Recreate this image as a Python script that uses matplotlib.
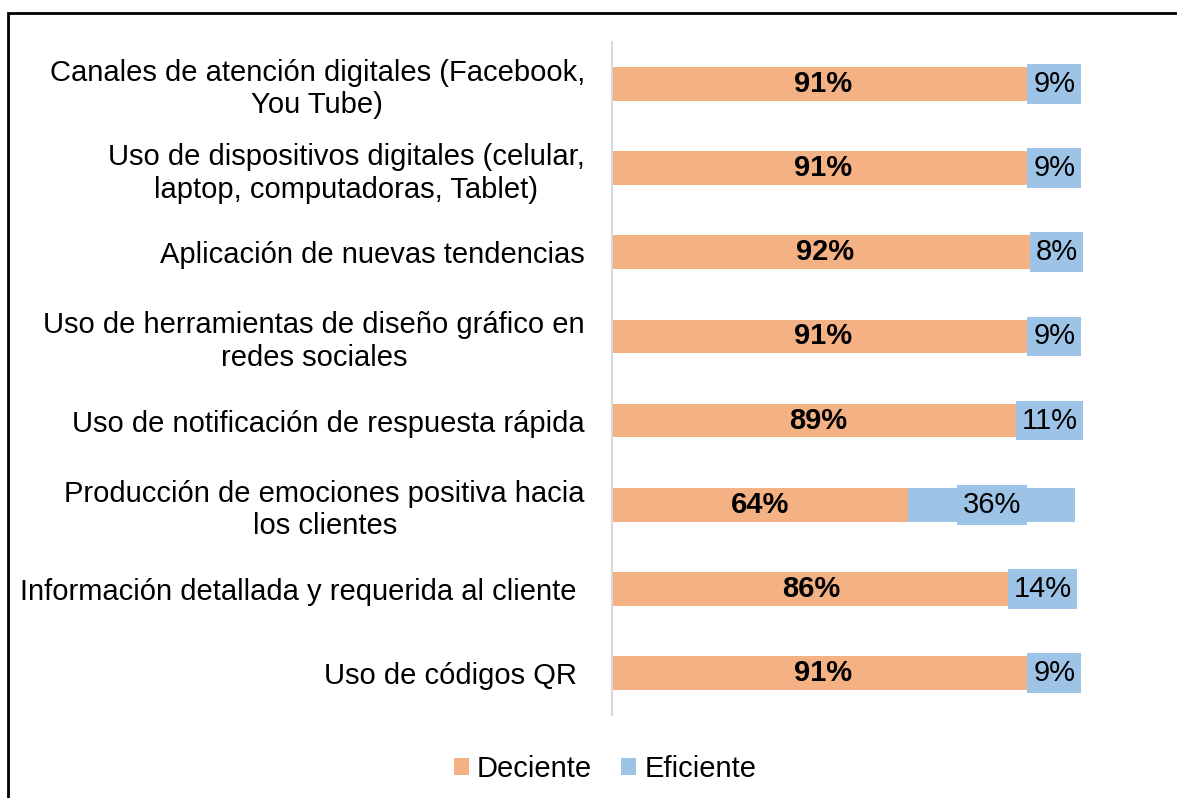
import matplotlib.pyplot as plt
from matplotlib.patches import Rectangle

categories = [
    "Canales de atención digitales (Facebook,\nYou Tube)",
    "Uso de dispositivos digitales (celular,\nlaptop, computadoras, Tablet)",
    "Aplicación de nuevas tendencias",
    "Uso de herramientas de diseño gráfico en\nredes sociales",
    "Uso de notificación de respuesta rápida",
    "Producción de emociones positiva hacia\nlos clientes",
    "Información detallada y requerida al cliente ",
    "Uso de códigos QR ",
]
deciente = [91, 91, 92, 91, 89, 64, 86, 91]
eficiente = [9, 9, 8, 9, 11, 36, 14, 9]
series_names = ["Deciente", "Eficiente"]

ORANGE = "#F4B183"
BLUE = "#9DC3E6"

plt.rcParams["font.family"] = ["Liberation Sans", "DejaVu Sans"]

W, H = 1177, 798
fig = plt.figure(figsize=(W / 100, H / 100), dpi=100)
ax = fig.add_axes([612 / W, 1 - 715 / H, (1075 - 612) / W, (715 - 42) / H])

y = list(range(len(categories)))
b1 = ax.barh(y, deciente, height=0.40, color=ORANGE, label=series_names[0])
b2 = ax.barh(y, eficiente, left=deciente, height=0.40, color=BLUE, label=series_names[1])

for yi, d, e in zip(y, deciente, eficiente):
    ax.text(d / 2, yi, f"{d}%", ha="center", va="center", fontsize=21,
            fontweight="bold", color="black")
    ax.text(d + e / 2, yi, f"{e}%", ha="center", va="center", fontsize=21,
            color="black",
            bbox=dict(boxstyle="square,pad=0.2", fc=BLUE, ec="none"))

ax.set_ylim(len(categories) - 0.5, -0.5)
ax.set_xlim(0, 100)
ax.set_yticks(y)
ax.set_yticklabels(categories, fontsize=21, multialignment="center", linespacing=1.2)
ax.tick_params(axis="y", length=0, pad=19.5)
ax.set_xticks([])
for s in ["top", "right", "bottom"]:
    ax.spines[s].set_visible(False)
ax.spines["left"].set_color("#D9D9D9")
ax.spines["left"].set_linewidth(1.5)

fig.legend(handles=[b1, b2], loc="center", bbox_to_anchor=(605 / W, 1 - 769 / H),
           ncol=2, frameon=False, fontsize=21, handlelength=0.52, handleheight=0.52,
           handletextpad=0.27, columnspacing=1.0)

fig.patches.append(Rectangle((8 / W, -0.1), 1.2, 1 - 12.5 / H + 0.1,
                             transform=fig.transFigure, fill=False,
                             edgecolor="black", linewidth=2))

fig.savefig("out.png", dpi=100)
